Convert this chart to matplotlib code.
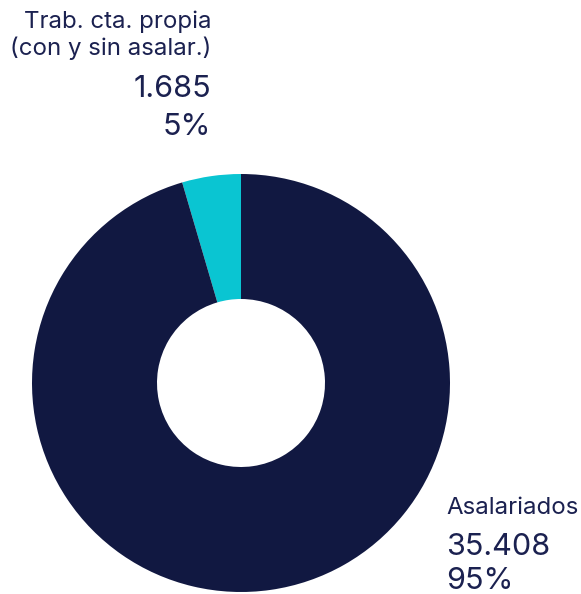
import matplotlib
matplotlib.use("Agg")
import matplotlib.pyplot as plt

categories = ["Trab. cta. propia\n(con y sin asalar.)", "Asalariados"]
values = [1685, 35408]
value_labels = ["1.685", "35.408"]
pct_labels = ["5%", "95%"]
colors = ["#0AC5D2", "#111841"]
text_color = "#1B2150"

plt.rcParams['font.family'] = ['Inter', 'DejaVu Sans']

W, H = 581, 594
fig = plt.figure(figsize=(W/100, H/100), dpi=100)
cx, cy, r = 241, 383, 209
ax = fig.add_axes([(cx - r)/W, (H - cy - r)/H, 2*r/W, 2*r/H])
ax.pie(values, colors=colors, startangle=90, counterclock=True,
       radius=1, wedgeprops=dict(width=1 - 84/209, linewidth=0))
ax.set_xlim(-1, 1)
ax.set_ylim(-1, 1)
ax.set_aspect('equal')
ax.axis('off')

def ftxt(x, ybase, s, size, ha):
    fig.text(x/W, 1 - ybase/H, s, fontsize=size, ha=ha, va='baseline', color=text_color)

# top-left label
lines = categories[0].split("\n")
ftxt(211, 28, lines[0], 17.3, 'right')
ftxt(211, 55, lines[1], 17.3, 'right')
ftxt(211, 97, value_labels[0], 22, 'right')
ftxt(211, 135, pct_labels[0], 22, 'right')

# bottom-right label
ftxt(446, 514, categories[1], 17.3, 'left')
ftxt(446, 555, value_labels[1], 22, 'left')
ftxt(446, 589, pct_labels[1], 22, 'left')

fig.savefig("out.png", dpi=100)
